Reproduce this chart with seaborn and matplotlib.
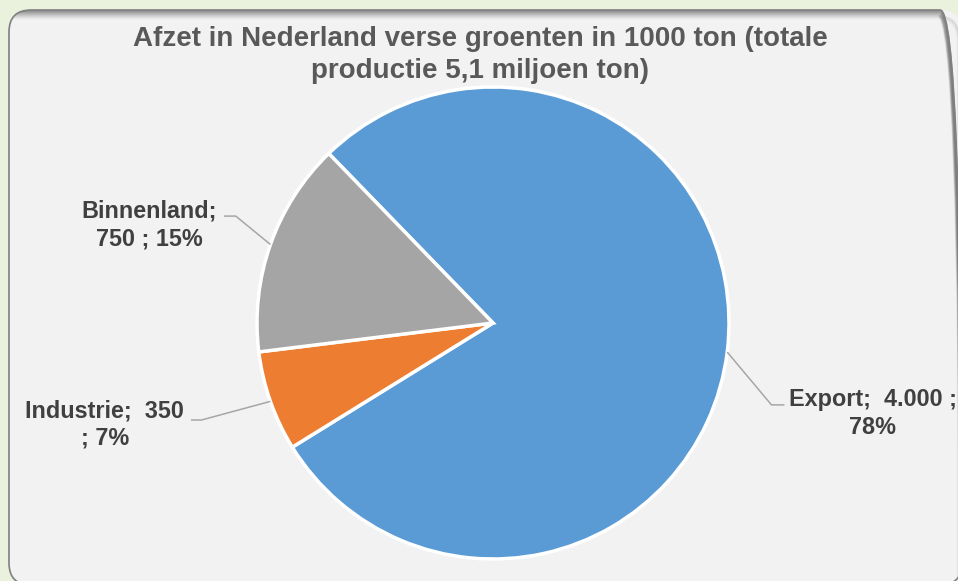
import numpy as np
import matplotlib.pyplot as plt
import seaborn as sns
from matplotlib.patches import FancyBboxPatch

# Data (1000 ton)
categories = ['Export', 'Industrie', 'Binnenland']
values = [4000, 350, 750]
percents = [78, 7, 15]
colors = sns.color_palette(['#5B9BD5', '#ED7D31', '#A5A5A5'])

# how each label wraps (as in the original)
label_fmt = {
    'Export': '{c};  {v} ;\n{p}%',
    'Industrie': '{c};  {v}\n; {p}%',
    'Binnenland': '{c};\n{v} ; {p}%',
}
# label layout (data units, pie radius = 1): text centre, elbow, line end
label_pos = {
    'Export': ((1.61, -0.385), (1.18, -0.347), (1.235, -0.347)),
    'Industrie': ((-1.645, -0.43), (-1.235, -0.411), (-1.28, -0.411)),
    'Binnenland': ((-1.455, 0.415), (-1.09, 0.453), (-1.14, 0.453)),
}

sns.set_theme(style='white')
plt.rcParams['font.family'] = ['Liberation Sans', 'DejaVu Sans']

W, H = 958, 581
fig = plt.figure(figsize=(W / 100, H / 100), dpi=100)
fig.patch.set_facecolor('#EAF1DD')

# background axes in pixel units (y up) for the rounded panel
bg = fig.add_axes([0, 0, 1, 1], zorder=-1)
bg.set_axis_off()
bg.set_xlim(0, W)
bg.set_ylim(0, H)
left, top, right, bottom, rs = 9, 10, 962, 585, 22
box = f'round,pad=0,rounding_size={rs}'
x0, y0, w0, h0 = left, H - bottom, right - left, bottom - top
panel = FancyBboxPatch((x0, y0), w0, h0, boxstyle=box,
                       facecolor='#F2F2F2', edgecolor='none')
bg.add_patch(panel)
# inner shadow along the top edge (and a little on the right)
for k in range(10):
    sh = FancyBboxPatch((x0 - 20 - k * 0.5, y0 - 40), w0 + 20, h0 + 40 - k,
                        boxstyle=box, facecolor='none', edgecolor='#6A6A6A',
                        linewidth=1.4, alpha=0.55 * (1 - k / 10) ** 1.5)
    bg.add_patch(sh)
    sh.set_clip_path(panel)
bg.add_patch(FancyBboxPatch((x0, y0), w0, h0, boxstyle=box,
                            facecolor='none', edgecolor='#808080', linewidth=1.2))

ax = fig.add_axes([0, 0, 1, 1])
cx, cy, r = 493, 323, 236
wedges, _ = ax.pie(values, colors=colors, startangle=134.1, counterclock=False,
                   radius=1.0, wedgeprops=dict(edgecolor='white', linewidth=2.5))
ax.set_axis_off()
ax.set_aspect('auto')
ax.set_xlim(-cx / r, (W - cx) / r)
ax.set_ylim(-(H - cy) / r, cy / r)

for w, cat, v, p in zip(wedges, categories, values, percents):
    mid = np.deg2rad((w.theta1 + w.theta2) / 2)
    edge = (np.cos(mid), np.sin(mid))
    (tx, ty), elbow, end = label_pos[cat]
    ax.plot([edge[0], elbow[0], end[0]], [edge[1], elbow[1], end[1]],
            color='#A6A6A6', linewidth=1.1, solid_capstyle='butt')
    vtxt = f'{v:,}'.replace(',', '.')
    ax.text(tx, ty, label_fmt[cat].format(c=cat, v=vtxt, p=p), ha='center',
            va='center', multialignment='center', fontsize=16.8,
            fontweight='bold', color='#404040', linespacing=1.27)

fig.text(480 / W, 1 - 55 / H,
         'Afzet in Nederland verse groenten in 1000 ton (totale\nproductie 5,1 miljoen ton)',
         ha='center', va='center', fontsize=20, fontweight='bold',
         color='#595959', linespacing=1.3)

fig.savefig('out.png', dpi=100, facecolor=fig.get_facecolor())
